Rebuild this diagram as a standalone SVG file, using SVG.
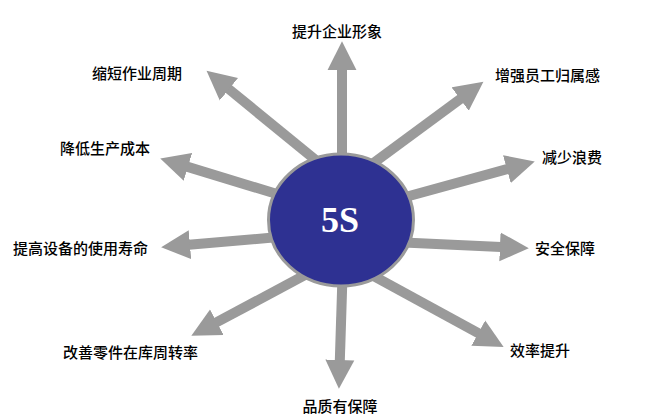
<svg xmlns="http://www.w3.org/2000/svg" width="646" height="418" viewBox="0 0 646 418">
<style>
.lbl{font-family:"Noto Sans CJK SC","Liberation Sans",sans-serif;font-size:15px;font-weight:500;fill:#000000}
.arr{stroke:#9a9a9a;stroke-width:10;fill:none;marker-end:url(#head)}
</style>
<defs>
<marker id="head" markerUnits="userSpaceOnUse" markerWidth="30" markerHeight="30" viewBox="0 -14 28 28" refX="1" refY="0" orient="auto">
<path d="M0,-13.5 L27,0 L0,13.5 Z" fill="#9a9a9a"/>
</marker>
</defs>
<rect width="646" height="418" fill="#ffffff"/>
<g id="connectors">
<line class="arr" x1="342" y1="200" x2="342" y2="69"/>
<line class="arr" x1="364" y1="170" x2="461" y2="98.4"/>
<line class="arr" x1="393.7" y1="200.3" x2="507.9" y2="168.9"/>
<line class="arr" x1="393" y1="242.1" x2="501" y2="246.9"/>
<line class="arr" x1="372.4" y1="275.4" x2="479.2" y2="333.6"/>
<line class="arr" x1="342.6" y1="273" x2="339.8" y2="361"/>
<line class="arr" x1="307.6" y1="273.6" x2="215.9" y2="322.7"/>
<line class="arr" x1="286.9" y1="236.3" x2="188.9" y2="244.8"/>
<line class="arr" x1="289.1" y1="197.8" x2="186.9" y2="166.6"/>
<line class="arr" x1="322.5" y1="165.7" x2="228.1" y2="88.5"/>
</g>
<g id="center">
<ellipse cx="341" cy="220" rx="72.5" ry="66" fill="#2e3192" stroke="#9a9a9a" stroke-width="3"/>
<text x="340" y="232" text-anchor="middle" font-family="Liberation Serif, serif" font-weight="bold" font-size="36" fill="#ffffff">5S</text>
</g>
<g id="n1"><text class="lbl" x="337" y="36.5" text-anchor="middle">提升企业形象</text></g>
<g id="n2"><text class="lbl" x="495" y="80.5">增强员工归属感</text></g>
<g id="n3"><text class="lbl" x="542" y="162.5">减少浪费</text></g>
<g id="n4"><text class="lbl" x="535" y="253.5">安全保障</text></g>
<g id="n5"><text class="lbl" x="510" y="355.5">效率提升</text></g>
<g id="n6"><text class="lbl" x="340" y="411.5" text-anchor="middle">品质有保障</text></g>
<g id="n7"><text class="lbl" x="63" y="357.5">改善零件在库周转率</text></g>
<g id="n8"><text class="lbl" x="13" y="253.5">提高设备的使用寿命</text></g>
<g id="n9"><text class="lbl" x="60" y="153.5">降低生产成本</text></g>
<g id="n10"><text class="lbl" x="92" y="78.5">缩短作业周期</text></g>
</svg>
